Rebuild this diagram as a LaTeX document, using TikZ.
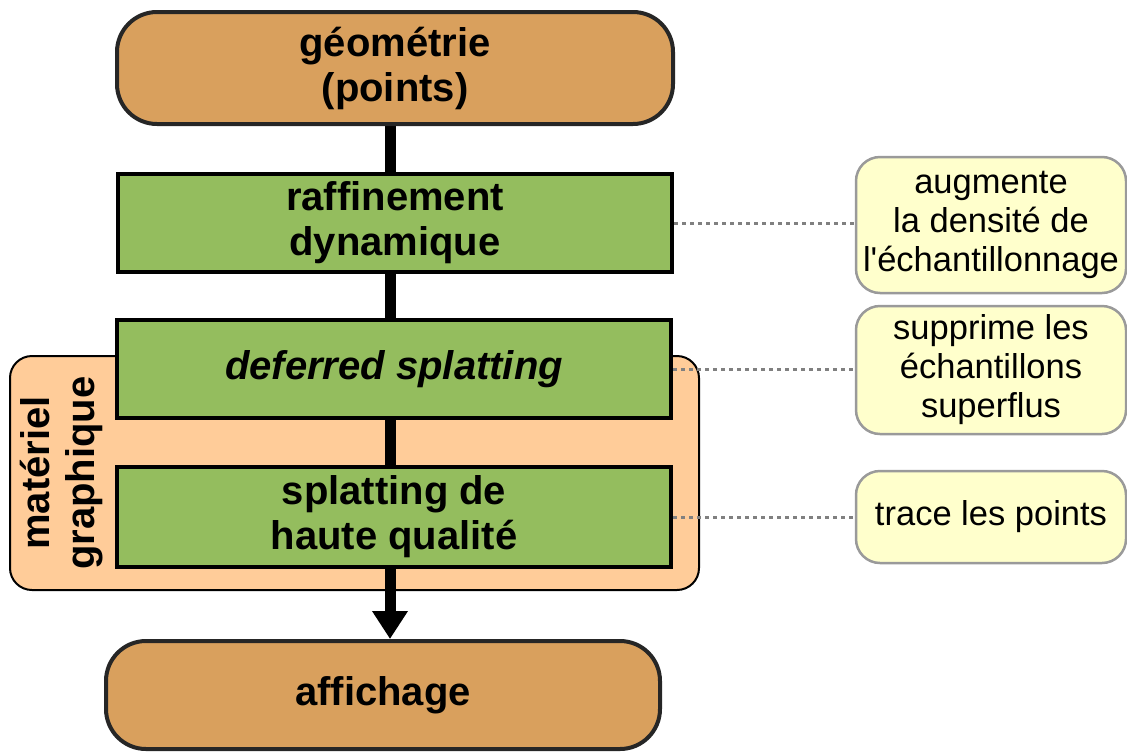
\documentclass[tikz,border=0pt]{standalone}
\usepackage{fontspec}
\setmainfont{Liberation Sans}
\usetikzlibrary{arrows.meta,backgrounds}

\definecolor{stagetan}{HTML}{D9A05D}
\definecolor{stagegreen}{HTML}{94BD5E}
\definecolor{hwpeach}{HTML}{FFCC99}
\definecolor{notefill}{HTML}{FFFFCC}
\definecolor{noteedge}{HTML}{9A9A9A}
\definecolor{leadergray}{HTML}{808080}

\tikzset{
  bigtext/.style={font=\fontsize{40}{45}\selectfont\bfseries, align=center, inner sep=2pt},
  endbox/.style={bigtext, draw=black!85, line width=4pt, fill=stagetan,
    rounded corners=40pt, minimum width=556pt, minimum height=112pt},
  stagebox/.style={bigtext, draw=black, line width=4pt, fill=stagegreen,
    minimum width=554pt, minimum height=98pt},
  hwzone/.style={draw=black, line width=2pt, fill=hwpeach, rounded corners=22pt,
    minimum width=689pt, minimum height=234pt, inner sep=0pt},
  notebox/.style={draw=noteedge, line width=2.5pt, fill=notefill, rounded corners=24pt,
    minimum width=270pt, align=center, inner sep=2pt,
    font=\fontsize{34.5}{39}\selectfont},
  flow/.style={line width=11pt, -{Triangle[width=34pt,length=28pt]}},
  leader/.style={draw=leadergray, line width=3pt, dash pattern=on 4pt off 4pt}
}

\begin{document}
\begin{tikzpicture}[x=1pt, y=-1pt]
  \useasboundingbox (0,0) rectangle (1127,753);

  % pipeline stages
  \node[endbox] (geo) at (395,68) {géométrie\\(points)};
  \node[stagebox] (raf) at (395,223) {raffinement\\dynamique};
  \node[stagebox] (def) at (394,369) {\itshape deferred splatting};
  \node[stagebox, minimum height=100pt] (spl) at (394,517) {splatting de\\haute qualité};
  \node[endbox, minimum width=554pt, minimum height=108pt] (aff) at (383,695) {affichage};

  % hardware zone and main flow behind the stages
  \begin{pgfonlayer}{background}
    \node[hwzone] (hw) at (354.5,473) {};
    \draw[flow] ([xshift=-5pt]geo.south) -- ([xshift=-5pt]geo.south |- aff.north);
  \end{pgfonlayer}
  \node[bigtext, rotate=90] (hwlabel) at (62,473) {matériel\\graphique};

  % side notes
  \node[notebox, minimum height=136pt] (n1) at (991,225) {augmente\\la densité de\\l\textquotesingle échantillonnage};
  \node[notebox, minimum height=128pt] (n2) at (991,370) {supprime les\\échantillons\\superflus};
  \node[notebox, minimum height=92pt] (n3) at (991,517) {trace les points};

  % leaders from stages to notes
  \draw[leader] (raf.east) -- (raf.east -| n1.west);
  \draw[leader] (def.east) -- (def.east -| n2.west);
  \draw[leader] (spl.east) -- (spl.east -| n3.west);
\end{tikzpicture}
\end{document}
